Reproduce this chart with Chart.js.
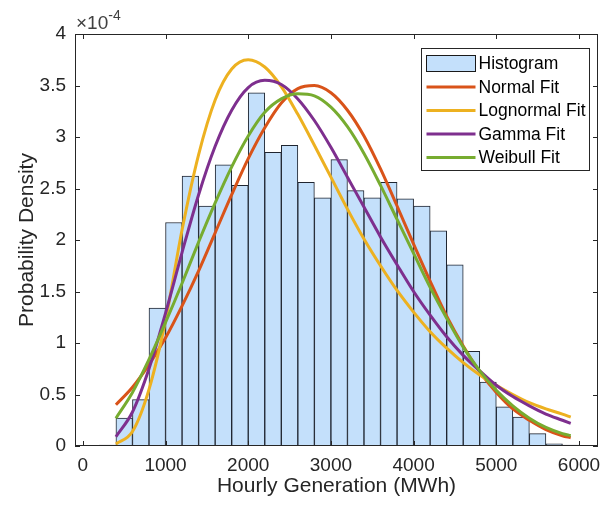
<!DOCTYPE html>
<html>
<head>
<meta charset="utf-8">
<script src="https://cdn.jsdelivr.net/npm/chart.js@4.4.1/dist/chart.umd.min.js"></script>
<style>
  html, body { margin: 0; padding: 0; background: #fff; }
  canvas { display: block; }
</style>
</head>
<body>
<canvas id="fitChart" width="602" height="511" style="width:602px;height:511px"></canvas>
<script>
// density values are in units of 1e-4 (the axis shows the x10^-4 multiplier)
const binCenters = [300, 500, 700, 900, 1100, 1300, 1500, 1700, 1900, 2100, 2300, 2500, 2700, 2900,
    3100, 3300, 3500, 3700, 3900, 4100, 4300, 4500, 4700, 4900, 5100, 5300, 5500, 5700, 5900];
const histDensity = [0.01, 0.27, 0.45, 1.34, 2.17, 2.62, 2.33, 2.73, 2.53, 3.43, 2.85, 2.92, 2.56, 2.41,
    2.78, 2.48, 2.41, 2.56, 2.40, 2.33, 2.09, 1.76, 0.92, 0.62, 0.38, 0.28, 0.12, 0.02, 0.01];

const fitX = [400, 600, 800, 1000, 1200, 1400, 1600, 1800, 2000, 2200, 2400, 2600, 2800, 3000,
    3200, 3400, 3600, 3800, 4000, 4200, 4400, 4600, 4800, 5000, 5200, 5400, 5600, 5800, 5900];
const normalFit = [0.40, 0.57, 0.79, 1.05, 1.36, 1.70, 2.07, 2.44, 2.79, 3.09, 3.33, 3.47, 3.50, 3.43,
    3.26, 3.01, 2.69, 2.33, 1.96, 1.60, 1.26, 0.97, 0.72, 0.52, 0.36, 0.25, 0.16, 0.10, 0.08];
const lognormalFit = [0.02, 0.14, 0.55, 1.22, 2.10, 2.83, 3.36, 3.66, 3.75, 3.68, 3.49, 3.22, 2.92, 2.61,
    2.30, 2.01, 1.75, 1.51, 1.30, 1.11, 0.95, 0.81, 0.69, 0.59, 0.50, 0.42, 0.36, 0.31, 0.28];
const gammaFit = [0.09, 0.33, 0.75, 1.29, 1.88, 2.44, 2.91, 3.26, 3.48, 3.55, 3.51, 3.37, 3.16, 2.90,
    2.61, 2.32, 2.03, 1.76, 1.50, 1.27, 1.06, 0.88, 0.73, 0.59, 0.48, 0.39, 0.31, 0.25, 0.22];
const weibullFit = [0.27, 0.52, 0.84, 1.20, 1.58, 1.98, 2.36, 2.71, 3.01, 3.24, 3.37, 3.42, 3.40, 3.29,
    3.10, 2.84, 2.53, 2.20, 1.87, 1.54, 1.24, 0.96, 0.73, 0.54, 0.39, 0.27, 0.18, 0.12, 0.10];

const xTicks = [0, 1000, 2000, 3000, 4000, 5000, 6000];
const yTicks = [0, 0.5, 1, 1.5, 2, 2.5, 3, 3.5, 4];

const FONT = "'Liberation Sans', Arial, Helvetica, sans-serif";
const AXIS = "#262626";

function pts(xs, ys) {
    return xs.map((x, i) => ({ x: x, y: ys[i] }));
}

function fitLine(label, data, color, order) {
    return {
        type: "line",
        label: label,
        data: pts(fitX, data),
        borderColor: color,
        borderWidth: 3,
        pointRadius: 0,
        fill: false,
        cubicInterpolationMode: "monotone",
        order: order
    };
}

// axis box with inward tick marks, like the original
const boxPlugin = {
    id: "box",
    afterDatasetsDraw(chart) {
        const { ctx, chartArea: a, scales } = chart;
        ctx.save();
        ctx.strokeStyle = AXIS;
        ctx.lineWidth = 1;
        ctx.strokeRect(Math.round(a.left) + 0.5, Math.round(a.top) + 0.5,
            Math.round(a.right - a.left) - 1, Math.round(a.bottom - a.top) - 1);
        ctx.beginPath();
        xTicks.forEach(v => {
            const px = Math.round(scales.x.getPixelForValue(v)) + 0.5;
            ctx.moveTo(px, a.bottom); ctx.lineTo(px, a.bottom - 5);
            ctx.moveTo(px, a.top); ctx.lineTo(px, a.top + 5);
        });
        yTicks.forEach(v => {
            const py = Math.round(scales.y.getPixelForValue(v)) + 0.5;
            ctx.moveTo(a.left, py); ctx.lineTo(a.left + 5, py);
            ctx.moveTo(a.right, py); ctx.lineTo(a.right - 5, py);
        });
        ctx.stroke();

        // exponent label
        ctx.fillStyle = "#404040";
        ctx.textBaseline = "alphabetic";
        ctx.font = "19px " + FONT;
        ctx.fillText("\u00d710", a.left + 1, a.top - 5);
        const w = ctx.measureText("\u00d710").width;
        ctx.font = "14px " + FONT;
        ctx.fillText("-4", a.left + 1 + w, a.top - 14);
        ctx.restore();
    }
};

// legend box in the upper right of the plot
const legendPlugin = {
    id: "boxLegend",
    afterDraw(chart) {
        const { ctx, chartArea: a } = chart;
        const w = 168, h = 122;
        const x0 = Math.round(a.right - 9 - w) + 0.5, y0 = Math.round(a.top + 14) + 0.5;
        ctx.save();
        ctx.fillStyle = "#fff";
        ctx.fillRect(x0, y0, w, h);
        ctx.strokeStyle = AXIS;
        ctx.lineWidth = 1;
        ctx.strokeRect(x0, y0, w, h);
        ctx.font = "17.5px " + FONT;
        ctx.textBaseline = "middle";
        chart.data.datasets.forEach((ds, i) => {
            const cy = y0 + 15 + i * 23.5;
            if (ds.type === "bar") {
                ctx.fillStyle = ds.backgroundColor;
                ctx.fillRect(x0 + 5, cy - 8, 49, 16);
                ctx.strokeStyle = "#1a1a1a";
                ctx.strokeRect(x0 + 5, cy - 8, 49, 16);
            } else {
                ctx.strokeStyle = ds.borderColor;
                ctx.lineWidth = 3;
                ctx.beginPath();
                ctx.moveTo(x0 + 5, cy); ctx.lineTo(x0 + 54, cy);
                ctx.stroke();
                ctx.lineWidth = 1;
            }
            ctx.fillStyle = "#000";
            ctx.fillText(ds.label, x0 + 57, cy + 1);
        });
        ctx.restore();
    }
};

new Chart(document.getElementById("fitChart"), {
    data: {
        datasets: [
            {
                type: "bar",
                label: "Histogram",
                data: pts(binCenters, histDensity),
                backgroundColor: "rgb(196,224,251)",
                borderColor: "#1f2530",
                borderWidth: 1,
                borderSkipped: false,
                barPercentage: 1,
                categoryPercentage: 1,
                order: 10
            },
            fitLine("Normal Fit", normalFit, "#D95319", 4),
            fitLine("Lognormal Fit", lognormalFit, "#EDB120", 3),
            fitLine("Gamma Fit", gammaFit, "#7E2F8E", 2),
            fitLine("Weibull Fit", weibullFit, "#77AC30", 1)
        ]
    },
    options: {
        responsive: false,
        animation: false,
        layout: { padding: { top: 34, right: 4, left: 0, bottom: 0 } },
        plugins: { legend: { display: false }, tooltip: { enabled: false } },
        scales: {
            x: {
                type: "linear",
                offset: false,
                min: -95,
                max: 6230,
                afterBuildTicks: s => { s.ticks = xTicks.map(v => ({ value: v })); },
                afterFit: s => { s.height = 65; s.paddingLeft = 0; s.paddingRight = 0; },
                grid: { display: false, drawTicks: false, offset: false },
                border: { display: false },
                ticks: {
                    font: { family: FONT, size: 19 },
                    color: AXIS,
                    padding: 8,
                    maxRotation: 0,
                    autoSkip: false,
                    callback: v => String(v)
                },
                title: {
                    display: true,
                    text: "Hourly Generation (MWh)",
                    font: { family: FONT, size: 21 },
                    color: AXIS,
                    padding: { top: 0, bottom: 12 }
                }
            },
            y: {
                type: "linear",
                min: 0,
                max: 4,
                afterBuildTicks: s => { s.ticks = yTicks.map(v => ({ value: v })); },
                afterFit: s => { s.width = 75; s.paddingTop = 0; s.paddingBottom = 0; },
                grid: { display: false, drawTicks: false },
                border: { display: false },
                ticks: {
                    font: { family: FONT, size: 19 },
                    color: AXIS,
                    padding: 9,
                    autoSkip: false,
                    callback: v => String(v)
                },
                title: {
                    display: true,
                    text: "Probability Density",
                    font: { family: FONT, size: 21 },
                    color: AXIS,
                    padding: { top: 15, bottom: 0 }
                }
            }
        }
    },
    plugins: [boxPlugin, legendPlugin]
});
</script>
</body>
</html>
